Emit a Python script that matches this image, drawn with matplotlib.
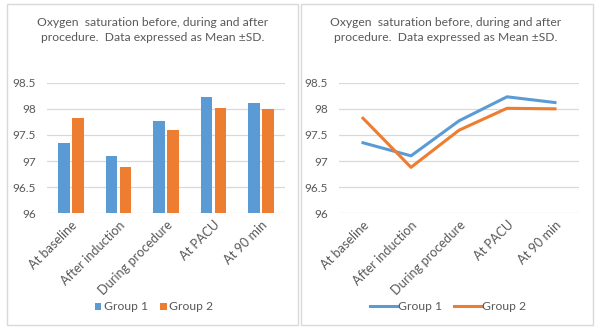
import matplotlib.pyplot as plt
import numpy as np
from matplotlib.patches import Rectangle
import matplotlib.transforms as mtransforms

plt.rcParams['font.family'] = ['Lato', 'DejaVu Sans']

# data
categories = ["At baseline", "After induction", "During procedure", "At PACU", "At 90 min"]
group1 = [97.35, 97.10, 97.77, 98.23, 98.12]
group2 = [97.82, 96.88, 97.59, 98.01, 98.00]
yticks = [96, 96.5, 97, 97.5, 98, 98.5]
ytick_labels = ["96", "96.5", "97", "97.5", "98", "98.5"]
title = "Oxygen  saturation before, during and after\nprocedure.  Data expressed as Mean \u00b1SD."

blue = '#5b9bd5'
orange = '#ed7d31'
txt = '#595959'
grid = '#d9d9d9'

W, H = 600, 334
fig = plt.figure(figsize=(W / 100, H / 100), dpi=100)

def px(x0, y0, x1, y1):
    # pixel box (top-left origin) -> figure fraction rect
    return [x0 / W, 1 - y1 / H, (x1 - x0) / W, (y1 - y0) / H]

# panel frames
for x0, x1 in [(7, 298), (301, 593)]:
    r = Rectangle((x0 / W, 1 - 325 / H), (x1 - x0) / W, 321 / H, transform=fig.transFigure,
                  fill=False, edgecolor='#d9d9d9', lw=1.0)
    fig.add_artist(r)

ax1 = fig.add_axes(px(47, 82.7, 285, 213.3))
ax2 = fig.add_axes(px(339, 82.7, 579, 213.3))

x = np.arange(len(categories))
bw = 0.245
ax1.bar(x - bw / 2 - 0.025, group1, bw, color=blue, zorder=3, label="Group 1")
ax1.bar(x + bw / 2 + 0.025, group2, bw, color=orange, zorder=3, label="Group 2")

ax2.plot(x, group1, color=blue, lw=2.2, zorder=3, label="Group 1")
ax2.plot(x, group2, color=orange, lw=2.2, zorder=3, label="Group 2")

shift = mtransforms.ScaledTranslation(5 / 100, 0, fig.dpi_scale_trans)
for ax in (ax1, ax2):
    ax.set_xlim(-0.5, len(categories) - 0.5)
    ax.set_ylim(96, 98.5)
    ax.set_yticks(yticks)
    ax.set_yticklabels(ytick_labels)
    ax.set_xticks(x)
    ax.set_xticklabels(categories, rotation=45, ha='right', rotation_mode='anchor')
    for lab in ax.get_xticklabels():
        lab.set_transform(lab.get_transform() + shift)
    ax.tick_params(length=0, colors=txt, labelsize=8.5)
    ax.tick_params(axis='x', pad=4, labelsize=9.2)
    ax.tick_params(axis='y', pad=8)
    for s in ax.spines.values():
        s.set_visible(False)
    ax.grid(axis='y', color=grid, lw=0.9, zorder=0)
    ax.set_axisbelow(True)

fig.text(152.5 / W, 1 - 30 / H, title, ha='center', va='center', fontsize=8.7,
         color=txt, linespacing=1.45)
fig.text(446 / W, 1 - 30 / H, title, ha='center', va='center', fontsize=8.7,
         color=txt, linespacing=1.45)

h1, l1 = ax1.get_legend_handles_labels()
fig.legend(h1, l1, loc='center', bbox_to_anchor=(154 / W, 1 - 307 / H), ncol=2,
           frameon=False, fontsize=8.7, labelcolor=txt, handlelength=0.55, handleheight=0.55,
           handletextpad=0.2, columnspacing=1.0)
h2, l2 = ax2.get_legend_handles_labels()
fig.legend(h2, l2, loc='center', bbox_to_anchor=(448 / W, 1 - 307 / H), ncol=2,
           frameon=False, fontsize=8.7, labelcolor=txt, handlelength=2.2,
           handletextpad=0.1, columnspacing=1.0)

fig.savefig('out.png', dpi=100, facecolor='white')
